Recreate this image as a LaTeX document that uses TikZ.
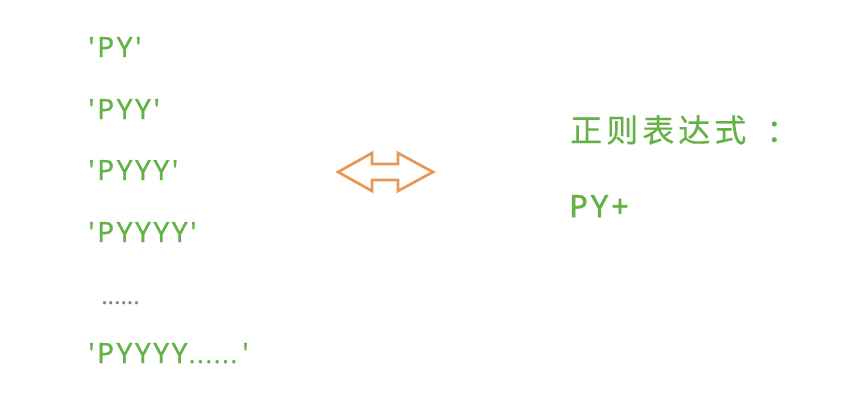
\documentclass[tikz,border=0pt]{standalone}
\usepackage{fontspec}
\setmainfont{Noto Sans}[Ligatures=TeXOff]
\newfontfamily\cjk{Noto Sans CJK SC}[Ligatures=TeXOff]
\definecolor{tgreen}{RGB}{100,178,70}
\definecolor{torange}{RGB}{232,150,82}
\definecolor{tdots}{RGB}{125,125,160}
\newcommand{\qgap}{\hspace{2pt}}
\begin{document}
\begin{tikzpicture}[x=0.75pt,y=-0.75pt,
  item/.style={anchor=base west,inner sep=0pt,text=tgreen,
    font=\fontsize{21pt}{24pt}\selectfont\addfontfeature{LetterSpace=9,FakeBold=0.7}},
  regex/.style={anchor=base west,inner sep=0pt,text=tgreen,
    font=\cjk\fontsize{24pt}{28pt}\selectfont\addfontfeature{LetterSpace=12.5,FakeBold=0.4}},
  dotstyle/.style={anchor=base west,inner sep=0pt,text=tdots,
    font=\fontsize{18pt}{20pt}\selectfont},
  arrowline/.style={draw=torange,line width=2pt,line join=miter}]
\useasboundingbox (0,0) rectangle (853,400);
\node[item] (l1) at (88,57) {'\qgap PY\qgap'};
\node[item] (l2) at (88,119) {'\qgap PYY\qgap'};
\node[item] (l3) at (88,180) {'\qgap PYYY\qgap'};
\node[item] (l4) at (88,242) {'\qgap PYYYY\qgap'};
\node[dotstyle] (dots) at (101,304) {......};
\node[item] (l5) at (88,363) {'PYYYY\hspace{1pt}{\fontsize{18pt}{20pt}\selectfont\addfontfeature{LetterSpace=8}......}\hspace{4pt}'};
\path[arrowline] (338,172) -- (372,153) -- (372,164) -- (398,164) -- (398,153) -- (433,172)
  -- (398,191) -- (398,180) -- (372,180) -- (372,191) -- cycle;
\node[regex] (title) at (570,142) {正则表达式\hspace{15pt}：};
\node[anchor=base west,inner sep=0pt,text=tgreen,
  font=\fontsize{23pt}{26pt}\selectfont\addfontfeature{LetterSpace=10,FakeBold=1.6}] (re) at (569,217) {PY+};
\end{tikzpicture}
\end{document}
